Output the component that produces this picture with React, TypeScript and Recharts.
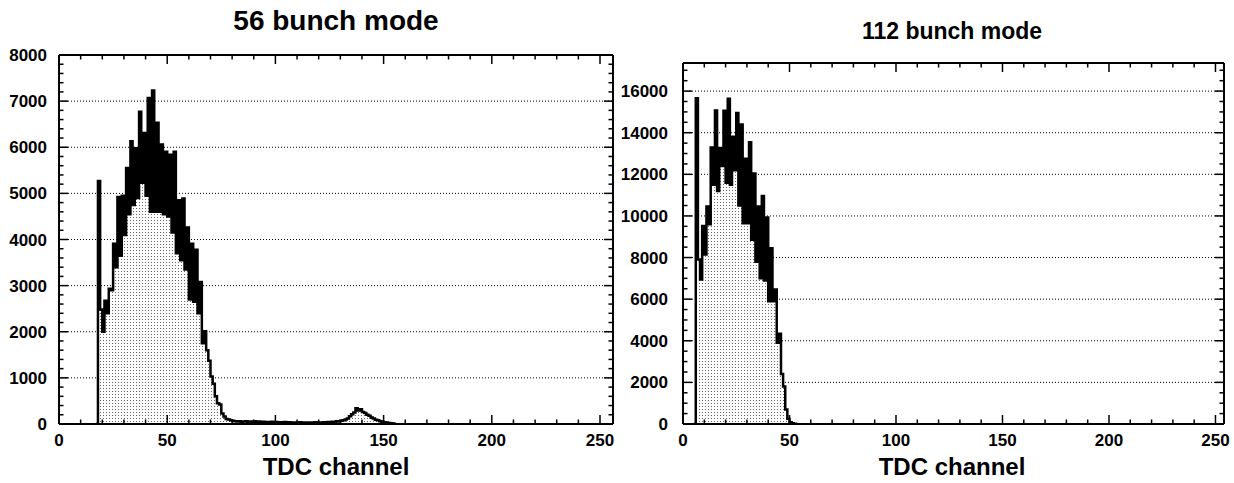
import React from "react";
import { AreaChart, Area, XAxis, YAxis, CartesianGrid, ReferenceLine } from "recharts";

// Histogram contents, one value per TDC channel, starting at the given channel.
const start56 = 17;
const counts56 = [
  0, 5270, 2480, 2000, 2670, 2400, 2930, 2900, 3910, 3400,
  4920, 3650, 4950, 4100, 5550, 4550, 6130, 4750, 5980, 4900,
  6770, 5230, 6310, 4950, 7070, 4600, 7230, 4600, 6530, 4600,
  6060, 4550, 5900, 4500, 5840, 4150, 5900, 3700, 4850, 3550,
  4890, 3350, 4260, 2700, 3910, 2650, 3780, 2400, 3080, 1750,
  2010, 1600, 1370, 1030, 870, 600, 450, 420, 230, 160,
  110,
  95, 80, 70, 60, 55, 60, 50, 55, 60, 50,
  55, 45, 60, 50, 55, 45, 50, 40, 45, 40,
  50, 40, 45, 35, 40, 35, 45, 30, 40, 35,
  30, 35, 30, 40, 30, 35, 30, 25, 35, 30,
  40, 30, 35, 30, 40, 35, 45, 40, 50, 45,
  60, 55, 70, 80, 95, 120, 170, 210, 250, 340,
  290, 320, 260, 240, 200, 180, 140, 120, 90, 80,
  60, 50, 40, 30, 20, 15, 8, 0,
];

const start112 = 5;
const counts112 = [
  0, 15660, 7900, 6940, 9520, 8150, 10450, 9600, 13290, 11500,
  15070, 11200, 13270, 12400, 15050, 11600, 15630, 11500, 13800, 12200,
  14950, 10500, 14390, 9650, 12745, 9650, 13540, 8850, 12040, 7800,
  10450, 7000, 10960, 6900, 9920, 5900, 8450, 5900, 6460, 3900,
  4340, 2400, 1800, 700, 250, 80, 30, 10, 0,
];

const xTicks = [0, 50, 100, 150, 200, 250];
const yTicks56 = [0, 1000, 2000, 3000, 4000, 5000, 6000, 7000, 8000];
const yTicks112 = [0, 2000, 4000, 6000, 8000, 10000, 12000, 14000, 16000];

const FONT = "'Liberation Sans', Arial, Helvetica, sans-serif";
// axes need a non-zero size to be drawn; keep it tiny so they sit on the frame
const THIN = 0.01;
const MAJOR_PX = 9;
const MINOR_PX = 4.5;

const steps = (step: number, max: number) =>
  Array.from({ length: Math.floor(max / step) + 1 }, (_, i) => i * step);

const toBins = (first: number, counts: number[]) =>
  counts.map((n, i) => ({ ch: first + i, n }));

type HistoProps = {
  id: string;
  bins: { ch: number; n: number }[];
  width: number;
  height: number;
  margin: { top: number; right: number; bottom: number; left: number };
  xMax: number;
  yMax: number;
  yMajor: number[];
  yMinorStep: number;
  labelGap: number;
};

function Histo({ id, bins, width, height, margin, xMax, yMax, yMajor, yMinorStep, labelGap }: HistoProps) {
  const xMinor = steps(10, xMax);
  const yMinor = steps(yMinorStep, yMax);
  const frame = { stroke: "#000", strokeWidth: 2 };
  const label = { fill: "#000", fontSize: 17, fontWeight: "bold", fontFamily: FONT };
  const xDom: [number, number] = [0, xMax];
  const yDom: [number, number] = [0, yMax];

  // tick lengths in data units (ticks point into the plot on all four sides)
  const plotW = width - margin.left - margin.right;
  const plotH = height - margin.top - margin.bottom;
  const dx = (px: number) => (px * xMax) / plotW;
  const dy = (px: number) => (px * yMax) / plotH;

  const tickSegs: { key: string; seg: [{ x: number; y: number }, { x: number; y: number }] }[] = [];
  xMinor.forEach((t) => {
    const len = dy(xTicks.includes(t) ? MAJOR_PX : MINOR_PX);
    tickSegs.push({ key: `xb${t}`, seg: [{ x: t, y: 0 }, { x: t, y: len }] });
    tickSegs.push({ key: `xt${t}`, seg: [{ x: t, y: yMax }, { x: t, y: yMax - len }] });
  });
  yMinor.forEach((t) => {
    const len = dx(yMajor.includes(t) ? MAJOR_PX : MINOR_PX);
    tickSegs.push({ key: `yl${t}`, seg: [{ x: 0, y: t }, { x: len, y: t }] });
    tickSegs.push({ key: `yr${t}`, seg: [{ x: xMax, y: t }, { x: xMax - len, y: t }] });
  });

  return (
    <AreaChart width={width} height={height} data={bins} margin={margin}>
      <defs>
        <pattern id={id} width={3} height={3} patternUnits="userSpaceOnUse">
          <rect width={3} height={3} fill="#fff" />
          <rect x={1} y={1} width={1} height={1} fill="#666" />
        </pattern>
      </defs>

      {/* dotted horizontal grid at the major y ticks */}
      <CartesianGrid vertical={false} xAxisId="xb" yAxisId="yl" stroke="#000" strokeDasharray="1 2" />

      <Area
        xAxisId="xb"
        yAxisId="yl"
        type="stepAfter"
        dataKey="n"
        stroke="#000"
        strokeWidth={2.5}
        fill={`url(#${id})`}
        fillOpacity={1}
        dot={false}
        activeDot={false}
        isAnimationActive={false}
      />

      {tickSegs.map((s) => (
        <ReferenceLine key={s.key} xAxisId="xb" yAxisId="yl" segment={s.seg} stroke="#000" strokeWidth={1.5} ifOverflow="visible" />
      ))}

      {/* frame: labelled bottom/left axes plus plain top/right lines */}
      <XAxis xAxisId="xb" type="number" dataKey="ch" domain={xDom} allowDataOverflow ticks={xTicks} interval={0}
        height={THIN} tickSize={0} tickMargin={10} axisLine={frame} tickLine={false} tick={label} />
      <XAxis xAxisId="xt" orientation="top" type="number" dataKey="ch" domain={xDom} allowDataOverflow ticks={xTicks}
        height={THIN} axisLine={frame} tickLine={false} tick={false} />
      <YAxis yAxisId="yl" type="number" domain={yDom} allowDataOverflow ticks={yMajor} interval={0}
        width={THIN} tickSize={0} tickMargin={labelGap} axisLine={frame} tickLine={false} tick={label} />
      <YAxis yAxisId="yr" orientation="right" type="number" domain={yDom} allowDataOverflow ticks={yMajor}
        width={THIN} axisLine={frame} tickLine={false} tick={false} />
    </AreaChart>
  );
}

const textStyle = (x: number, y: number, size: number): React.CSSProperties => ({
  position: "absolute",
  left: x,
  top: y,
  transform: "translateX(-50%)",
  fontFamily: FONT,
  fontWeight: "bold",
  fontSize: size,
  lineHeight: 1,
  whiteSpace: "nowrap",
  color: "#000",
});

export default function App() {
  return (
    <div style={{ position: "absolute", left: 0, top: 0, width: 1234, height: 483, background: "#fff", overflow: "hidden" }}>
      <div style={{ position: "absolute", left: 0, top: 0 }}>
        <Histo
          id="dots56"
          bins={toBins(start56, counts56)}
          width={620}
          height={483}
          margin={{ top: 55, right: 7, bottom: 59, left: 59 }}
          xMax={256}
          yMax={8000}
          yMajor={yTicks56}
          yMinorStep={200}
          labelGap={12}
        />
      </div>
      <div style={{ position: "absolute", left: 620, top: 0 }}>
        <Histo
          id="dots112"
          bins={toBins(start112, counts112)}
          width={614}
          height={483}
          margin={{ top: 63, right: 10, bottom: 59, left: 63 }}
          xMax={254}
          yMax={17350}
          yMajor={yTicks112}
          yMinorStep={500}
          labelGap={15}
        />
      </div>
      <div style={textStyle(336, 7, 28)}>56 bunch mode</div>
      <div style={textStyle(952, 20, 23)}>112 bunch mode</div>
      <div style={textStyle(336, 455, 24)}>TDC channel</div>
      <div style={textStyle(952, 455, 24)}>TDC channel</div>
    </div>
  );
}
